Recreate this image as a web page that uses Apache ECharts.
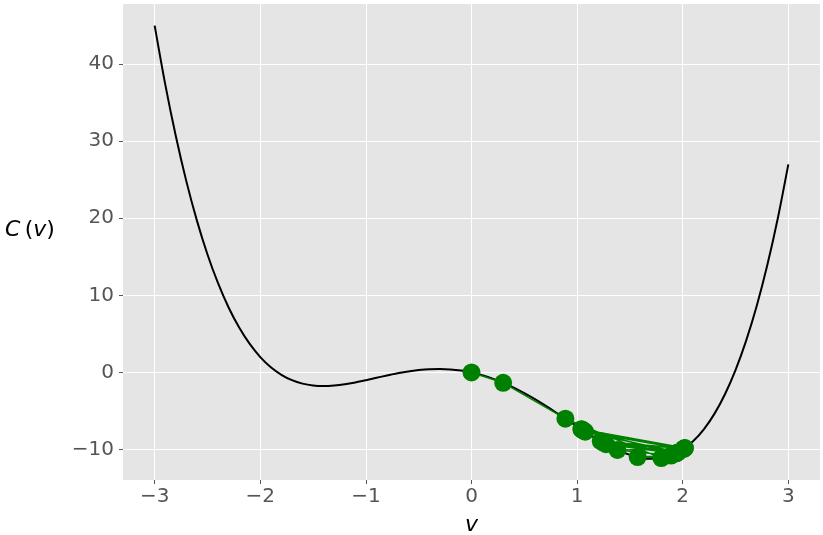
<!DOCTYPE html>
<html><head><meta charset="utf-8">
<script src="https://cdn.jsdelivr.net/npm/echarts@6/dist/echarts.min.js"></script>
<style>html,body{margin:0;padding:0;background:#fff}#c{width:823px;height:535px}</style>
</head><body><div id="c"></div>
<script>
// Curve C(v)
const curveV = [-3.0,-2.9,-2.8,-2.7,-2.6,-2.5,-2.4,-2.3,-2.2,-2.1,-2.0,-1.9,-1.8,-1.7,-1.6,-1.5,-1.4,-1.3,-1.2,-1.1,-1.0,-0.9,-0.8,-0.7,-0.6,-0.5,-0.4,-0.3,-0.2,-0.1,0.0,0.1,0.2,0.3,0.4,0.5,0.6,0.7,0.8,0.9,1.0,1.1,1.2,1.3,1.4,1.5,1.6,1.7,1.8,1.9,2.0,2.1,2.2,2.3,2.4,2.5,2.6,2.7,2.8,2.9,3.0];
const curveC = [45.0,37.38,30.67,24.79,19.70,15.31,11.58,8.43,5.83,3.70,2.0,0.68,-0.30,-1.00,-1.45,-1.69,-1.76,-1.69,-1.53,-1.29,-1.0,-0.69,-0.39,-0.11,0.13,0.31,0.43,0.46,0.40,0.25,0.0,-0.35,-0.80,-1.34,-1.97,-2.69,-3.47,-4.31,-5.19,-6.09,-7.0,-7.89,-8.73,-9.49,-10.16,-10.69,-11.05,-11.20,-11.10,-10.72,-10.0,-8.90,-7.37,-5.37,-2.82,0.31,4.10,8.59,13.87,19.98,27.0];
// Green path points
const pathV = [0,0.3,0.889,1.797,1.573,1.889,1.382,2.008,1.077,1.954,1.224,2.014,1.060,1.944,1.249,2.019,1.046,1.934,1.274,2.021,1.040];
const pathC = [0,-1.34,-5.99,-11.11,-10.97,-10.78,-10.05,-9.92,-7.69,-10.37,-8.92,-9.87,-7.54,-10.45,-9.11,-9.82,-7.41,-10.51,-9.30,-9.80,-7.36];
const xTicks = [-3,-2,-1,0,1,2,3];
const yTicks = [-10,0,10,20,30,40];

const fmt = v => String(v).replace('-', '\u2212');
const chart = echarts.init(document.getElementById('c'));
const tickStyle = {color:'#555555', fontSize:20, fontFamily:'DejaVu Sans'};
chart.setOption({
  animation:false,
  grid:{left:123,right:3,top:4,bottom:55,show:true,backgroundColor:'#E5E5E5',borderWidth:0,
        outerBoundsMode:'none',containLabel:false},
  xAxis:{type:'value',min:-3.3,max:3.3,interval:1,
    axisLine:{show:false,onZero:false},
    axisTick:{show:true,length:4,lineStyle:{color:'#555555'},customValues:xTicks},
    axisLabel:Object.assign({margin:7,formatter:fmt,customValues:xTicks},tickStyle),
    splitLine:{show:true,lineStyle:{color:'#ffffff',width:1}},
    name:'v',nameLocation:'middle',nameGap:34,
    nameTextStyle:{fontSize:22,fontStyle:'italic',fontFamily:'DejaVu Sans',color:'#000'}},
  yAxis:{type:'value',min:-13.95,max:47.8,interval:10,
    axisLine:{show:false,onZero:false},
    axisTick:{show:true,length:4,lineStyle:{color:'#555555'},customValues:yTicks},
    axisLabel:Object.assign({margin:9,formatter:fmt,customValues:yTicks},tickStyle),
    splitLine:{show:true,lineStyle:{color:'#ffffff',width:1}}},
  graphic:[{type:'text',left:5,top:219,
    style:{rich:{i:{fontStyle:'italic',fontSize:22,fontFamily:'DejaVu Sans',fill:'#000'},n:{fontSize:22,fontFamily:'DejaVu Sans',fill:'#000'}},
      text:'{i|C}{n|\u2009(}{i|v}{n|)}'}}],
  series:[
    {type:'line',data:curveV.map((v,i)=>[v,curveC[i]]),smooth:0.3,showSymbol:false,
     lineStyle:{color:'#000',width:2},z:2},
    {type:'line',data:pathV.map((v,i)=>[v,pathC[i]]),symbol:'circle',symbolSize:18,showSymbol:true,
     itemStyle:{color:'#008000'},lineStyle:{color:'#008000',width:1.5},z:3}
  ]
});
</script></body></html>
